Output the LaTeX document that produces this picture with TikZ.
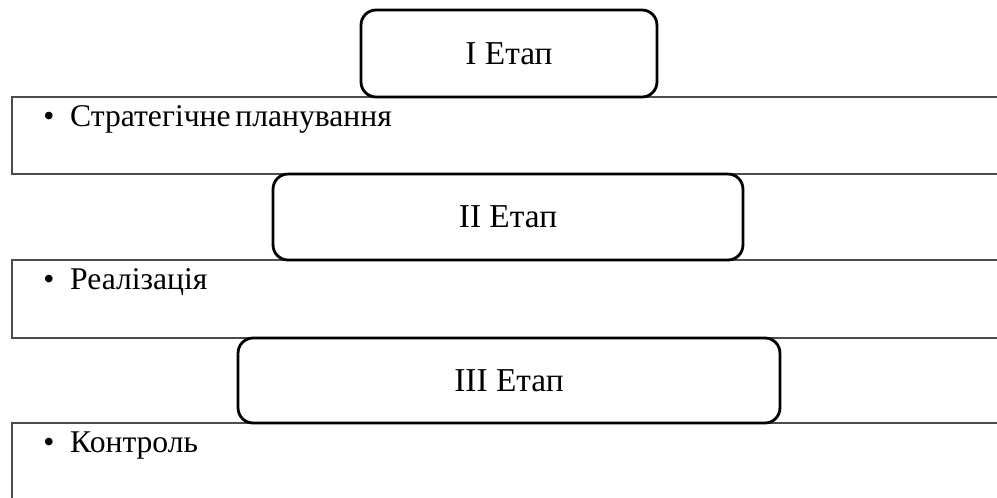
\documentclass[tikz,border=0pt]{standalone}
\usepackage{fontspec}
\setmainfont{Liberation Serif}
\usepackage{tikz}

\tikzset{
  stage/.style={draw, thick, line width=1.6pt, rounded corners=0.3cm, fill=white, font=\fontsize{19}{21}\selectfont},
  phase/.style={draw=black!70, line width=0.8pt, minimum width=19.96cm},
  item/.style={anchor=base west, inner sep=0pt, font=\fontsize{18}{20}\selectfont}
}

\begin{document}
\begin{tikzpicture}[x=0.02cm, y=-0.02cm]
\clip (0,0) rectangle (997,497);
% phase rows
\node[phase, minimum height=1.54cm] (P1) at (511,135.5) {};
\node[phase, minimum height=1.56cm] (P2) at (511,299) {};
\node[phase, minimum height=1.8cm] (P3) at (511,468) {};
% stage boxes on top
\node[stage, minimum width=5.92cm, minimum height=1.74cm] (S1) at (509,53.5) {I Етап};
\node[stage, minimum width=9.4cm, minimum height=1.72cm] (S2) at (508,217) {II Етап};
\node[stage, minimum width=10.84cm, minimum height=1.7cm] (S3) at (509,380.5) {III Етап};
% items
\node[item] (T1) at (43,126) {•\hspace{0.5em}Стратегічне\hspace{0.15em}планування};
\node[item] (T2) at (43,289) {•\hspace{0.5em}Реалізація};
\node[item] (T3) at (43,452) {•\hspace{0.5em}Контроль};
\end{tikzpicture}
\end{document}
